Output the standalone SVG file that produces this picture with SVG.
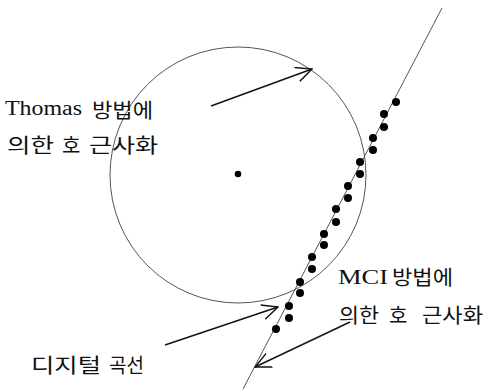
<svg xmlns="http://www.w3.org/2000/svg" width="487" height="390" viewBox="0 0 487 390">
<defs>
<style>
.lat{font-family:"Liberation Serif","DejaVu Serif",serif;fill:#111}
.kor{font-family:"Noto Sans CJK KR","Noto Sans",sans-serif;font-size:20px;fill:#111}
.arw{stroke:#111;stroke-width:1.4;fill:none;marker-end:url(#vh)}
.dot{fill:#000}
</style>
<marker id="vh" markerUnits="userSpaceOnUse" viewBox="0 0 17 16" refX="16" refY="8" markerWidth="17" markerHeight="16" orient="auto">
<path d="M0,0.5 L16,8 L0,15.5" fill="none" stroke="#111" stroke-width="1.4"/>
</marker>
</defs>
<rect width="487" height="390" fill="#fff"/>
<g id="circle">
<circle cx="238" cy="175" r="128" fill="none" stroke="#555" stroke-width="1"/>
<circle cx="238" cy="174" r="3.3" class="dot"/>
</g>
<g id="digital-curve">
<line x1="442" y1="8" x2="243" y2="389" stroke="#555" stroke-width="1"/>
<circle cx="396" cy="102" r="4" class="dot"/>
<circle cx="384" cy="114" r="4" class="dot"/>
<circle cx="384" cy="127" r="4" class="dot"/>
<circle cx="373" cy="138" r="4" class="dot"/>
<circle cx="373" cy="150" r="4" class="dot"/>
<circle cx="360" cy="162" r="4" class="dot"/>
<circle cx="360" cy="174" r="4" class="dot"/>
<circle cx="348" cy="186" r="4" class="dot"/>
<circle cx="348" cy="198" r="4" class="dot"/>
<circle cx="336" cy="209" r="4" class="dot"/>
<circle cx="336" cy="222" r="4" class="dot"/>
<circle cx="324" cy="234" r="4" class="dot"/>
<circle cx="324" cy="245" r="4" class="dot"/>
<circle cx="312" cy="257" r="4" class="dot"/>
<circle cx="312" cy="269" r="4" class="dot"/>
<circle cx="300" cy="282" r="4" class="dot"/>
<circle cx="300" cy="293" r="4" class="dot"/>
<circle cx="289" cy="306" r="4" class="dot"/>
<circle cx="289" cy="318" r="4" class="dot"/>
<circle cx="276" cy="329" r="4" class="dot"/>
</g>
<g id="connectors">
<line class="arw" x1="211" y1="106" x2="312" y2="69"/>
<line class="arw" x1="165" y1="345" x2="278" y2="307"/>
<line class="arw" x1="350" y1="322" x2="255" y2="367"/>
</g>
<g id="label-thomas">
<text class="lat" x="5" y="115" font-size="20" textLength="77" lengthAdjust="spacingAndGlyphs">Thomas</text>
<text class="kor" x="92" y="118" textLength="61" lengthAdjust="spacingAndGlyphs">방법에</text>
<text class="kor" x="7" y="153" textLength="47" lengthAdjust="spacingAndGlyphs">의한</text>
<text class="kor" x="62" y="153">호</text>
<text class="kor" x="89" y="153" textLength="69" lengthAdjust="spacingAndGlyphs">근사화</text>
</g>
<g id="label-mci">
<text class="lat" x="338" y="284" font-size="22" textLength="50" lengthAdjust="spacingAndGlyphs">MCI</text>
<text class="kor" x="392" y="285" textLength="61" lengthAdjust="spacingAndGlyphs">방법에</text>
<text class="kor" x="339" y="323" textLength="40" lengthAdjust="spacingAndGlyphs">의한</text>
<text class="kor" x="389" y="323">호</text>
<text class="kor" x="422" y="323" textLength="61" lengthAdjust="spacingAndGlyphs">근사화</text>
</g>
<g id="label-digital">
<text class="kor" x="31" y="373" textLength="70" lengthAdjust="spacingAndGlyphs">디지털</text>
<text class="kor" x="109" y="373" textLength="35" lengthAdjust="spacingAndGlyphs">곡선</text>
</g>
</svg>
